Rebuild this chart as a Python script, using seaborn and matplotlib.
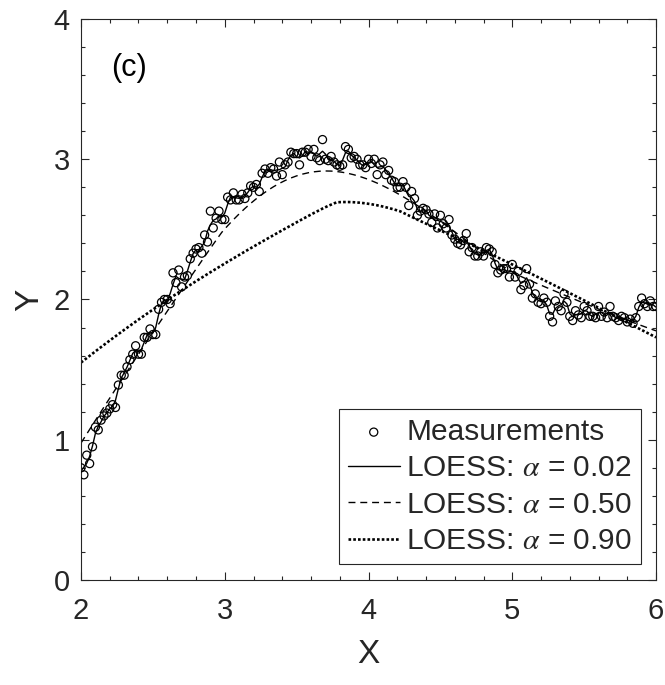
import numpy as np
import pandas as pd
import matplotlib
matplotlib.use("Agg")
import matplotlib.pyplot as plt
from matplotlib.ticker import MultipleLocator
import seaborn as sns

# ---- data ----
x_meas = [
    2.00, 2.02, 2.04, 2.06, 2.08, 2.10, 2.12, 2.14, 2.16, 2.18,
    2.20, 2.22, 2.24, 2.26, 2.28, 2.30, 2.32, 2.34, 2.36, 2.38,
    2.40, 2.42, 2.44, 2.46, 2.48, 2.50, 2.52, 2.54, 2.56, 2.58,
    2.60, 2.62, 2.64, 2.66, 2.68, 2.70, 2.72, 2.74, 2.76, 2.78,
    2.80, 2.82, 2.84, 2.86, 2.88, 2.90, 2.92, 2.94, 2.96, 2.98,
    3.00, 3.02, 3.04, 3.06, 3.08, 3.10, 3.12, 3.14, 3.16, 3.18,
    3.20, 3.22, 3.24, 3.26, 3.28, 3.30, 3.32, 3.34, 3.36, 3.38,
    3.40, 3.42, 3.44, 3.46, 3.48, 3.50, 3.52, 3.54, 3.56, 3.58,
    3.60, 3.62, 3.64, 3.66, 3.68, 3.70, 3.72, 3.74, 3.76, 3.78,
    3.80, 3.82, 3.84, 3.86, 3.88, 3.90, 3.92, 3.94, 3.96, 3.98,
    4.00, 4.02, 4.04, 4.06, 4.08, 4.10, 4.12, 4.14, 4.16, 4.18,
    4.20, 4.22, 4.24, 4.26, 4.28, 4.30, 4.32, 4.34, 4.36, 4.38,
    4.40, 4.42, 4.44, 4.46, 4.48, 4.50, 4.52, 4.54, 4.56, 4.58,
    4.60, 4.62, 4.64, 4.66, 4.68, 4.70, 4.72, 4.74, 4.76, 4.78,
    4.80, 4.82, 4.84, 4.86, 4.88, 4.90, 4.92, 4.94, 4.96, 4.98,
    5.00, 5.02, 5.04, 5.06, 5.08, 5.10, 5.12, 5.14, 5.16, 5.18,
    5.20, 5.22, 5.24, 5.26, 5.28, 5.30, 5.32, 5.34, 5.36, 5.38,
    5.40, 5.42, 5.44, 5.46, 5.48, 5.50, 5.52, 5.54, 5.56, 5.58,
    5.60, 5.62, 5.64, 5.66, 5.68, 5.70, 5.72, 5.74, 5.76, 5.78,
    5.80, 5.82, 5.84, 5.86, 5.88, 5.90, 5.92, 5.94, 5.96, 5.98,
    6.00,
]
y_meas = [
    0.80, 0.75, 0.89, 0.83, 0.95, 1.09, 1.07, 1.14, 1.17, 1.19,
    1.22, 1.25, 1.23, 1.39, 1.46, 1.46, 1.52, 1.57, 1.61, 1.67,
    1.61, 1.61, 1.73, 1.73, 1.79, 1.75, 1.75, 1.93, 1.98, 2.00,
    2.00, 1.97, 2.19, 2.12, 2.21, 2.09, 2.16, 2.17, 2.29, 2.33,
    2.36, 2.37, 2.33, 2.46, 2.41, 2.63, 2.51, 2.58, 2.63, 2.57,
    2.57, 2.73, 2.71, 2.76, 2.71, 2.71, 2.75, 2.72, 2.76, 2.81,
    2.80, 2.82, 2.77, 2.90, 2.93, 2.90, 2.94, 2.93, 2.88, 2.98,
    2.89, 2.96, 2.98, 3.05, 3.04, 3.04, 2.96, 3.05, 3.05, 3.07,
    3.02, 3.07, 3.01, 2.99, 3.14, 3.00, 2.99, 3.02, 2.98, 2.96,
    2.95, 2.96, 3.09, 3.07, 3.01, 3.02, 3.00, 2.96, 2.96, 2.94,
    3.00, 2.97, 3.00, 2.89, 2.96, 2.98, 2.89, 2.92, 2.85, 2.84,
    2.80, 2.80, 2.84, 2.80, 2.67, 2.77, 2.72, 2.60, 2.63, 2.65,
    2.64, 2.61, 2.55, 2.61, 2.51, 2.60, 2.54, 2.51, 2.57, 2.46,
    2.43, 2.40, 2.39, 2.42, 2.47, 2.34, 2.37, 2.31, 2.31, 2.34,
    2.31, 2.37, 2.36, 2.34, 2.25, 2.19, 2.21, 2.22, 2.22, 2.16,
    2.25, 2.16, 2.20, 2.07, 2.10, 2.22, 2.11, 2.01, 2.04, 1.98,
    1.97, 2.01, 1.98, 1.88, 1.84, 1.99, 1.95, 1.92, 2.04, 1.98,
    1.88, 1.85, 1.92, 1.89, 1.87, 1.95, 1.92, 1.88, 1.88, 1.87,
    1.95, 1.88, 1.91, 1.87, 1.95, 1.88, 1.87, 1.85, 1.88, 1.87,
    1.84, 1.86, 1.83, 1.87, 1.95, 2.01, 1.97, 1.95, 1.99, 1.95,
    1.95,
]
spans = [0.02, 0.50, 0.90]
span_labels = [r"LOESS: $\alpha$ = 0.02", r"LOESS: $\alpha$ = 0.50", r"LOESS: $\alpha$ = 0.90"]
x_ticks = [2, 3, 4, 5, 6]
y_ticks = [0, 1, 2, 3, 4]


def loess(x, y, frac):
    x = np.asarray(x, float)
    y = np.asarray(y, float)
    n = len(x)
    k = max(int(np.floor(frac * n)), 3)
    out = np.empty(n)
    for i, xi in enumerate(x):
        d = np.abs(x - xi)
        idx = np.argsort(d, kind="stable")[:k]
        h = d[idx].max()
        w = (1 - (d[idx] / h) ** 3) ** 3
        w = np.clip(w, 0, None)
        A = np.vstack([np.ones(k), x[idx] - xi]).T
        sw = np.sqrt(w)
        beta = np.linalg.lstsq(A * sw[:, None], y[idx] * sw, rcond=None)[0]
        out[i] = beta[0]
    return out


sns.set_style("ticks")
plt.rcParams["font.family"] = ["Liberation Sans", "DejaVu Sans"]
plt.rcParams["mathtext.fontset"] = "stix"

fig = plt.figure(figsize=(6.65, 6.85), dpi=100)
ax = fig.add_axes([0.1218, 0.1533, 0.8647, 0.819])

meas = pd.DataFrame({"x": x_meas, "y": y_meas})
sns.scatterplot(data=meas, x="x", y="y", ax=ax, marker="o", s=34,
                facecolor="none", edgecolor="black", linewidth=0.9,
                label="Measurements", zorder=3)

styles = [dict(linestyle="-", linewidth=1.0),
          dict(linestyle=(0, (5, 3.5)), linewidth=1.0),
          dict(linestyle=(0, (1, 0.8)), linewidth=1.9)]
for sp, lab, st in zip(spans, span_labels, styles):
    fit = pd.DataFrame({"x": x_meas, "y": loess(x_meas, y_meas, sp)})
    sns.lineplot(data=fit, x="x", y="y", ax=ax, color="black", sort=False,
                 estimator=None, label=lab, zorder=2, **st)

ax.set_xlim(2, 6)
ax.set_ylim(0, 4)
ax.set_xticks(x_ticks)
ax.set_yticks(y_ticks)
ax.xaxis.set_minor_locator(MultipleLocator(0.2))
ax.yaxis.set_minor_locator(MultipleLocator(0.2))
ax.tick_params(which="both", direction="in", top=True, right=True,
               color="#262626", width=0.8)
ax.tick_params(which="major", length=6, labelsize=21, labelcolor="#262626")
ax.tick_params(which="minor", length=3)
ax.tick_params(axis="x", which="major", pad=12)
ax.tick_params(axis="y", which="major", pad=8)
for s in ax.spines.values():
    s.set_color("#262626")
    s.set_linewidth(0.8)

ax.set_xlabel("X", fontsize=24, color="#262626", labelpad=10)
ax.set_ylabel("Y", fontsize=24, color="#262626", labelpad=6)

ax.text(0.052, 0.9127, "(c)", transform=ax.transAxes, fontsize=22,
        ha="left", va="center", color="black")

leg = ax.legend(loc="lower right", bbox_to_anchor=(0.974, 0.0285),
                borderaxespad=0, fontsize=21.5, frameon=True, fancybox=False,
                edgecolor="#262626", framealpha=1, handlelength=1.75,
                handletextpad=0.22, labelspacing=0.28, borderpad=0.3,
                scatterpoints=1)
leg.get_frame().set_linewidth(0.8)

fig.savefig("out.png", dpi=100)
